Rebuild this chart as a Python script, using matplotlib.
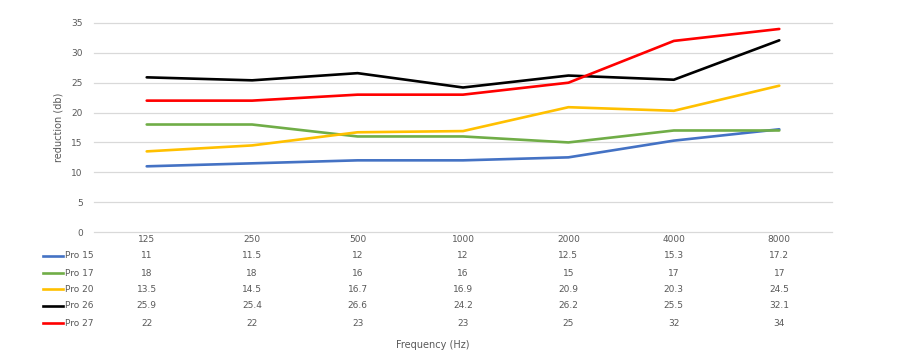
import matplotlib
matplotlib.use("Agg")
import matplotlib.pyplot as plt
import matplotlib.transforms as mtransforms
from matplotlib.lines import Line2D

# Data
freqs = ["125", "250", "500", "1000", "2000", "4000", "8000"]
pro15 = [11, 11.5, 12, 12, 12.5, 15.3, 17.2]
pro17 = [18, 18, 16, 16, 15, 17, 17]
pro20 = [13.5, 14.5, 16.7, 16.9, 20.9, 20.3, 24.5]
pro26 = [25.9, 25.4, 26.6, 24.2, 26.2, 25.5, 32.1]
pro27 = [22, 22, 23, 23, 25, 32, 34]

series_names = ["Pro 15", "Pro 17", "Pro 20", "Pro 26", "Pro 27"]
series_vals = [pro15, pro17, pro20, pro26, pro27]
colors = ["#4472C4", "#70AD47", "#FFC000", "#000000", "#FF0000"]

text_col = "#595959"
plt.rcParams['font.family'] = ['DejaVu Sans']

W, H = 898, 364
fig = plt.figure(figsize=(W / 100, H / 100), dpi=100)
ax = fig.add_axes([94 / W, (H - 232) / H, 738 / W, 209 / H])

x = list(range(len(freqs)))
for vals, c in zip(series_vals, colors):
    ax.plot(x, vals, color=c, lw=1.9, solid_capstyle='round', zorder=3)

ax.set_xlim(-0.5, len(freqs) - 0.5)
ax.set_ylim(0, 35)
ax.set_yticks(range(0, 36, 5))
ax.set_xticks([])
ax.grid(axis='y', color='#D9D9D9', lw=0.9)
for gl in ax.get_ygridlines():
    gl.set_clip_on(False)
ax.set_axisbelow(True)
for s in ax.spines.values():
    s.set_visible(False)
ax.tick_params(axis='y', length=0, labelsize=6.5, labelcolor=text_col, pad=8)
ax.set_ylabel("reduction (db)", fontsize=7, color=text_col, labelpad=6)

# data table under the plot
tr = mtransforms.blended_transform_factory(ax.transData, fig.transFigure)
def fy(py):
    return (H - py) / H

for i, f in enumerate(freqs):
    ax.text(i, fy(240), f, transform=tr, ha='center', va='center',
            fontsize=6.5, color=text_col, clip_on=False)

row_y = [256, 273, 289, 306, 323]
for name, vals, c, py in zip(series_names, series_vals, colors, row_y):
    for i, v in enumerate(vals):
        ax.text(i, fy(py), f"{v:g}", transform=tr, ha='center', va='center',
                fontsize=6.5, color=text_col, clip_on=False)
    fig.add_artist(Line2D([43 / W, 63 / W], [fy(py), fy(py)], color=c, lw=1.9,
                          transform=fig.transFigure))
    fig.text(65 / W, fy(py), name, ha='left', va='center', fontsize=6.5, color=text_col)

fig.text(433 / W, fy(345), "Frequency (Hz)", ha='center', va='center',
         fontsize=7, color=text_col)

fig.savefig("out.png", dpi=100)
